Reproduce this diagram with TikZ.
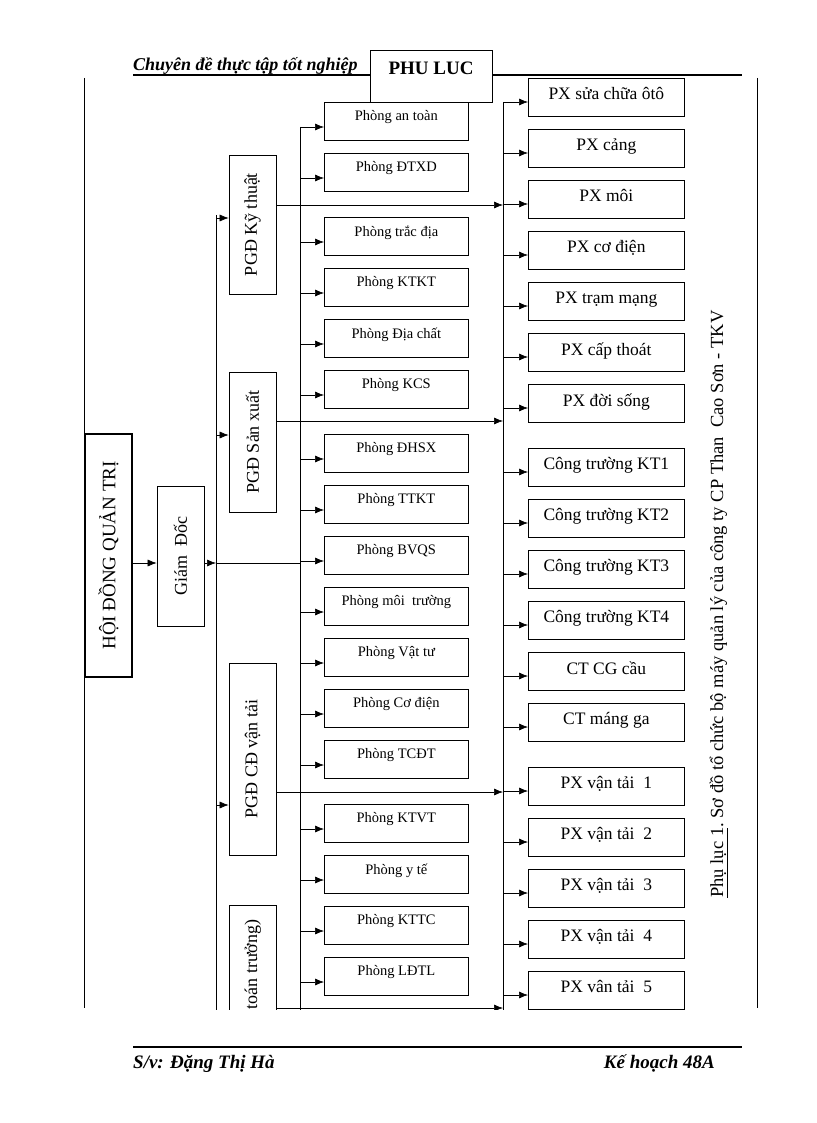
\documentclass[tikz,border=0pt]{standalone}
\usepackage{fontspec}
\setmainfont{Liberation Serif}
\usetikzlibrary{arrows.meta}
\tikzset{
  bx/.style={draw,line width=0.7pt,fill=white,inner sep=1pt},
  phong/.style={bx,minimum width=144pt,minimum height=38pt,font=\fontsize{14.5}{15}\selectfont},
  px/.style={bx,minimum width=156pt,minimum height=38pt,font=\fontsize{17.5}{18}\selectfont},
  pgd/.style={bx,minimum height=47pt,rotate=90,font=\fontsize{18}{19}\selectfont},
  arr/.style={line width=0.6pt,-{Latex[length=9pt,width=7pt]}},
  ln/.style={line width=0.6pt}
}
\begin{document}
\begin{tikzpicture}[x=1pt,y=-1pt]
\useasboundingbox (0,0) rectangle (816,1123);
% header / footer
\draw[line width=1.6pt] (133,75) -- (742,75);
\node[anchor=base west,font=\fontsize{18}{19}\selectfont\bfseries\itshape,inner sep=0pt] (hdr) at (133,71) {Chuyên đề thực tập tốt nghiệp};
\node[bx,line width=0.8pt,minimum width=122pt,minimum height=52pt,font=\fontsize{19}{20}\selectfont\bfseries,text depth=16pt] (pl) at (431,76) {PHU LUC};
\draw[line width=1.6pt] (133,1047) -- (742,1047);
\node[anchor=base west,font=\fontsize{19}{20}\selectfont\bfseries\itshape,inner sep=0pt] (sv) at (133,1068) {S/v: Đặng Thị Hà};
\node[anchor=base east,font=\fontsize{19}{20}\selectfont\bfseries\itshape,inner sep=0pt] (kh) at (715,1068) {Kế hoạch 48A};
\draw[line width=0.5pt] (84,78) -- (84,1008);
\draw[line width=0.5pt] (757,78) -- (757,1008);
\node[rotate=90,font=\fontsize{18.5}{19}\selectfont] (cap) at (719,604) {\underline{Phụ lục 1}.\ Sơ đồ tổ chức bộ máy quản lý của công ty CP Than\ \ Cao Sơn - TKV};
\begin{scope}
\clip (0,40) rectangle (816,1009);
% top level
\node[bx,line width=1.6pt,minimum width=243pt,minimum height=47pt,rotate=90,font=\fontsize{19}{20}\selectfont] (hd) at (108.5,555.5) {HỘI ĐỒNG QUẢN TRỊ};
\node[bx,minimum width=140pt,minimum height=47pt,rotate=90,font=\fontsize{18}{19}\selectfont] (gd) at (180.5,556) {Giám\ \ Đốc};
\draw[arr] (hd.south |- 0,563) -- (gd.north |- 0,563);
\coordinate (busA) at (216,563);
\coordinate (busB) at (300,563);
\coordinate (busC) at (503,563);
\draw[arr] (gd.south |- 0,563) -- (busA);
\draw[ln] (216,215) -- (216,1010);
\draw[ln] (300,127) -- (300,1010);
\draw[ln] (503,102) -- (503,1010);
% PGD boxes
\node[pgd,minimum width=139pt] (kt) at (252.5,224.5) {PGĐ Kỹ thuật};
\node[pgd,minimum width=140pt] (sx) at (252.5,442) {PGĐ Sản xuất};
\node[pgd,minimum width=192pt] (cd) at (252.5,759) {PGĐ CĐ vận tải};
\node[bx,minimum width=180pt,minimum height=47pt,rotate=90,anchor=west] (ktt) at (252.5,1086) {};
\node[rotate=90,anchor=east,font=\fontsize{18}{19}\selectfont] (kttt) at (252.5,916) {(Kế toán trưởng)};
\draw[arr] (216,218) -- (kt.north |- 0,218);
\draw[arr] (216,435) -- (sx.north |- 0,435);
\draw[arr] (216,805) -- (cd.north |- 0,805);
\draw[arr] (kt.south |- 0,205) -- (busC |- 0,205);
\draw[arr] (sx.south |- 0,421) -- (busC |- 0,421);
\draw[arr] (cd.south |- 0,792) -- (busC |- 0,792);
\draw[arr] (276,1008) -- (busC |- 0,1008);
% Phong
\foreach \n/\t/\y in {p1/Phòng an toàn/102, p2/Phòng ĐTXD/153, p3/Phòng trắc địa/217, p4/Phòng KTKT/268, p5/Phòng Địa chất/319, p6/Phòng KCS/370, p7/Phòng ĐHSX/434, p8/Phòng TTKT/485, p9/Phòng BVQS/536, p10/Phòng môi\ \ trường/587, p11/Phòng Vật tư/638, p12/Phòng Cơ điện/689, p13/Phòng TCĐT/740, p14/Phòng KTVT/804, p15/Phòng y tế/855, p16/Phòng KTTC/906, p17/Phòng LĐTL/957}{
  \node[phong,anchor=north west,text depth=11pt] (\n) at (324,\y) {\t};
  \draw[arr] (busB |- 0,\y+25) -- (\n.west |- 0,\y+25);
}
\draw[ln] (busA) -- (busB);
% PX
\foreach \n/\t/\y in {q1/PX sửa chữa ôtô/78, q2/PX cảng/129, q3/PX môi/180, q4/PX cơ điện/231, q5/PX trạm mạng/282, q6/PX cấp thoát/333, q7/PX đời sống/384, q8/Công trường KT1/448, q9/Công trường KT2/499, q10/Công trường KT3/550, q11/Công trường KT4/601, q12/CT CG cầu/652, q13/CT máng ga/703, q14/PX vận tải\ \ 1/767, q15/PX vận tải\ \ 2/818, q16/PX vận tải\ \ 3/869, q17/PX vận tải\ \ 4/920, q18/PX vân tải\ \ 5/971}{
  \node[px,anchor=north west,text depth=7pt] (\n) at (528,\y) {\t};
  \draw[arr] (busC |- 0,\y+24) -- (\n.west |- 0,\y+24);
}
\end{scope}
\end{tikzpicture}
\end{document}
